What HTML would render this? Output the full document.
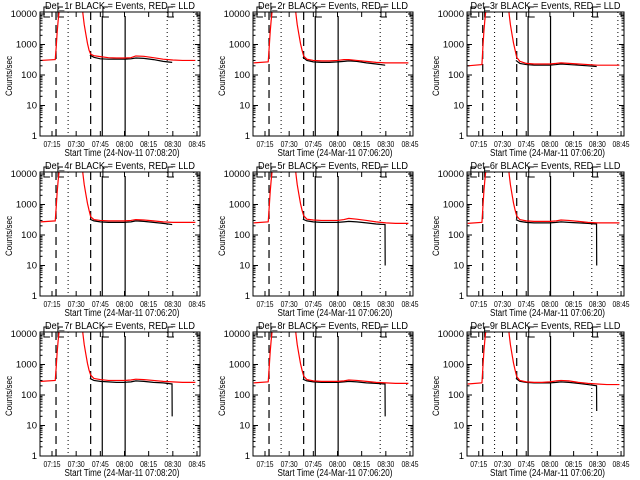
<!DOCTYPE html>
<html><head><meta charset="utf-8"><style>
body{margin:0;background:#fff}
svg{display:block}
text{font-family:"Liberation Sans",sans-serif;fill:#000}
</style></head><body>
<svg id="c" width="640" height="480" viewBox="0 0 640 480"></svg>
<script>
const titles=["Det_1r","Det_2r","Det_3r","Det_4r","Det_5r","Det_6r","Det_7r","Det_8r","Det_9r"];
const startTimes=["24-Nov-11 07:08:20","24-Mar-11 07:06:20","24-Mar-11 07:06:20","24-Mar-11 07:06:20","24-Mar-11 07:06:20","24-Mar-11 07:06:20","24-Mar-11 07:08:20","24-Mar-11 07:06:20","24-Mar-11 07:06:20"];
const xTickLabels=["07:15","07:30","07:45","08:00","08:15","08:30","08:45"];
const xTickMinutes=[15,30,45,60,75,90,105];
const yTickLabels=["1","10","100","1000","10000"];
const yTickValues=[1,10,100,1000,10000];
const tRed=[8,17,17.6,18.2,18.8,19.4,20,33.5,34.2,35,36,37,38,39,41,45,50,55,60,64,67,72,78,84,90,96,104];
const tBlack=[38.5,41,45,50,55,60,64,67,72,78,84,89.5,89.6];
const spike=[30000,10000,4500,2200,1100,650];
const red1=[300,320,800,2500,6000,12000,30000,...spike,480,430,400,370,360,360,370,420,410,370,330,310,300,300];
const red2=[250,270,800,2500,6000,12000,30000,...spike,420,330,300,290,290,300,320,320,300,280,260,250,250,250];
const red3=[200,220,800,2500,6000,12000,30000,...spike,380,280,240,230,230,230,240,250,240,230,220,210,210,210];
const red4=[270,290,800,2500,6000,12000,30000,...spike,400,320,300,290,290,290,300,320,310,290,270,260,260,260];
const red5=[250,270,800,2500,6000,12000,30000,...spike,430,330,310,300,300,300,320,350,330,300,270,250,240,240];
const red6=[240,260,800,2500,6000,12000,30000,...spike,420,320,290,280,280,280,290,310,300,280,260,250,250,250];
const red7=[280,300,800,2500,6000,12000,30000,...spike,450,350,320,300,300,300,310,330,320,300,280,270,260,260];
const red8=[250,270,800,2500,6000,12000,30000,...spike,420,320,290,280,280,280,290,310,300,280,260,250,240,240];
const red9=[230,250,800,2500,6000,12000,30000,...spike,400,300,270,260,260,270,290,300,290,260,240,230,220,220];
const black1=[450,380,340,330,330,330,340,360,350,320,280,260,260];
const black2=[380,300,270,260,260,270,280,290,280,250,230,210,210];
const black3=[300,240,220,210,210,210,220,230,220,210,200,190,190];
const black4=[330,290,270,260,260,260,270,290,280,260,240,220,220];
const black5=[330,290,270,260,260,260,270,280,270,250,230,220,10];
const black6=[320,280,260,250,250,250,260,270,260,250,240,230,10];
const black7=[350,300,280,270,260,260,270,290,280,260,250,230,20];
const black8=[330,290,270,260,260,260,270,280,270,250,240,230,20];
const black9=[350,280,260,250,250,250,260,270,260,240,220,200,30];
const reds=[red1,red2,red3,red4,red5,red6,red7,red8,red9];
const blacks=[black1,black2,black3,black4,black5,black6,black7,black8,black9];
const dashedLines=[17.5,39];
const solidLines=[46.2,60.4];
const dottedLines=[25,86.5,103];
const bracketTimes=[10,18.7,46.6,87];

const NS="http://www.w3.org/2000/svg";
const svg=document.getElementById('c');
function mk(tag,attrs,parent){const e=document.createElementNS(NS,tag);for(const k in attrs)e.setAttribute(k,attrs[k]);(parent||svg).appendChild(e);return e;}
const colX=[0,213,427], boxW=[160,160,157];
for(let i=0;i<9;i++){
  const col=i%3,row=Math.floor(i/3);
  const L=colX[col]+40,W=boxW[col],R=L+W,T=row*160+12,B=row*160+136;
  const sx=W/160;
  const xs=t=>L+(12+(t-15)*1.611)*sx;
  const ys=v=>B-Math.log10(v)/4*122;
  const g=mk('g',{});
  
  
  const cp=mk('clipPath',{id:'cp'+i},g);mk('rect',{x:L,y:T,width:W,height:B-T},cp);
  dashedLines.forEach(t=>{const l=mk('line',{x1:xs(t),x2:xs(t),y1:T,y2:B,stroke:'#000','stroke-width':1.2,'stroke-dasharray':'8,5'},g);});
  solidLines.forEach(t=>{const l=mk('line',{x1:xs(t),x2:xs(t),y1:T+4,y2:B,stroke:'#000','stroke-width':1.2},g);});
  dottedLines.forEach(t=>{const l=mk('line',{x1:xs(t),x2:xs(t),y1:T,y2:B,stroke:'#000','stroke-width':1,'stroke-dasharray':'1,3'},g);});
  bracketTimes.forEach(t=>{const x=xs(t);const p=mk('path',{d:`M${x+5},${T-5}H${x}V${T+5}H${x+6}`,fill:'none',stroke:'#000','stroke-width':1},g);});
  const blk=mk('polyline',{points:tBlack.map((t,j)=>xs(t)+','+ys(blacks[i][j])).join(' '),fill:'none',stroke:'#000','stroke-width':1.2,'clip-path':`url(#cp${i})`},g);
  
  
  const rd=mk('polyline',{points:tRed.map((t,j)=>xs(t)+','+ys(reds[i][j])).join(' '),fill:'none',stroke:'#f00','stroke-width':1.2,'clip-path':`url(#cp${i})`},g);
  
  
  const bx=mk('rect',{x:L,y:T,width:W,height:B-T,fill:'none',stroke:'#000','stroke-width':1},g);
  
  yTickValues.forEach((v,j)=>{const y=ys(v);
    mk('line',{x1:L,x2:L+5,y1:y,y2:y,stroke:'#000'},g);mk('line',{x1:R,x2:R-5,y1:y,y2:y,stroke:'#000'},g);
    const tx=mk('text',{x:L-3,y:y+3,'font-size':9.5,'text-anchor':'end'},g);tx.textContent=yTickLabels[j];
    
    if(j<4)for(let m=2;m<10;m++){const yy=ys(v*m);mk('line',{x1:L,x2:L+2.5,y1:yy,y2:yy,stroke:'#000'},g);mk('line',{x1:R,x2:R-2.5,y1:yy,y2:yy,stroke:'#000'},g);}
  });
  xTickMinutes.forEach((t,j)=>{const x=xs(t);
    mk('line',{x1:x,x2:x,y1:B,y2:B-5,stroke:'#000'},g);mk('line',{x1:x,x2:x,y1:T,y2:T+5,stroke:'#000'},g);
    const tx=mk('text',{x:x,y:B+11,'font-size':8,'text-anchor':'middle',textLength:17,lengthAdjust:'spacingAndGlyphs'},g);tx.textContent=xTickLabels[j];
    
  });
  const ti=mk('text',{x:(L+R)/2,y:T-3,'font-size':10.5,'text-anchor':'middle',textLength:150,lengthAdjust:'spacingAndGlyphs'},g);
  ti.textContent=titles[i]+' BLACK = Events, RED = LLD';
  
  const xl=mk('text',{x:(L+R)/2+2,y:B+20,'font-size':10,'text-anchor':'middle',textLength:115,lengthAdjust:'spacingAndGlyphs'},g);
  xl.textContent='Start Time ('+startTimes[i]+')';
  
  const cy=(T+B)/2+2;
  const yl=mk('text',{x:colX[col]+12,y:cy,'font-size':9,'text-anchor':'middle',transform:`rotate(-90 ${colX[col]+12} ${cy})`,textLength:40,lengthAdjust:'spacingAndGlyphs'},g);
  yl.textContent='Counts/sec';
  
}
</script>
</body></html>
